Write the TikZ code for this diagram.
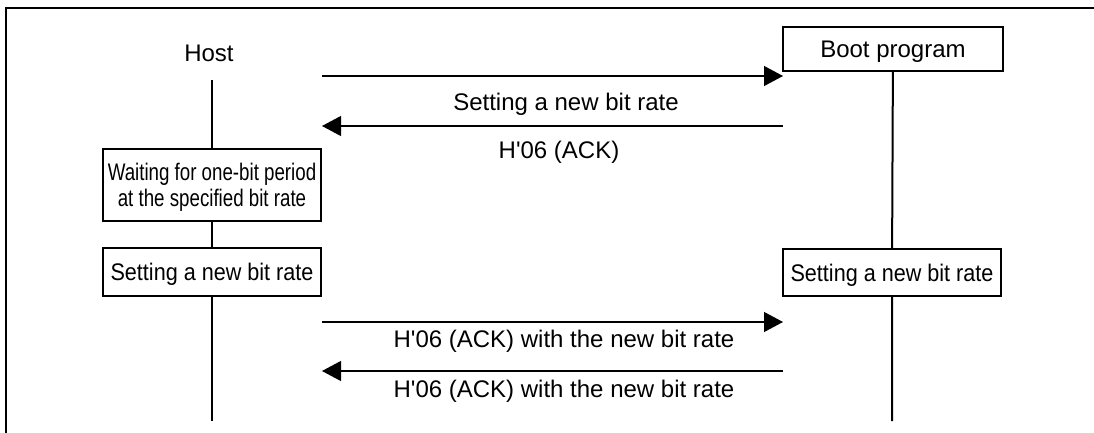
\documentclass[tikz,border=0pt]{standalone}
\usepackage{fontspec}
\setmainfont{Liberation Sans}
\newfontfamily\setfont[FakeStretch=0.9]{Liberation Sans}
\newfontfamily\waitfont[FakeStretch=0.78]{Liberation Sans}
\usetikzlibrary{arrows.meta,positioning}

\begin{document}
\begin{tikzpicture}[x=0.5pt,y=-0.5pt,
every node/.style={font=\fontsize{12}{13}\selectfont,inner sep=0pt},
lane/.style={line width=1pt},
box/.style={draw,line width=1pt,align=center,text depth=0pt},
msg/.style={line width=0.6pt,-{Triangle[length=9.5pt,width=10pt]}}]
\useasboundingbox (0,0) rectangle (1094,433);
\draw[line width=1.2pt] (6,433)--(6,8)--(1094,8);
\node (H) at (209,53) {Host};
\node[box,minimum width=110pt,minimum height=22pt] (B) at (893,49) {Boot program};
\node[box,minimum width=109pt,minimum height=36pt,font=\fontsize{12}{13}\waitfont] (W) at (212,185) {Waiting for one-bit period\\at the specified bit rate};
\node[box,minimum width=109pt,minimum height=24pt,font=\fontsize{12}{13}\setfont] (HS) at (212,272) {Setting a new bit rate};
\node[box,minimum width=109pt,minimum height=23.5pt,font=\fontsize{12}{13}\setfont] (BS) at (892,272.5) {Setting a new bit rate};
\coordinate (Htop) at (212,80);
\coordinate (Hend) at (212,421);
\coordinate (Bend) at (892,421);
\draw[lane] (Htop)--(W)--(HS)--(Hend);
\draw[lane] (B)--(BS)--(Bend);
\coordinate (h1) at (322,76);
\coordinate (b1) at (783,76);
\coordinate (h2) at (322,126);
\coordinate (b2) at (783,126);
\coordinate (h3) at (322,322);
\coordinate (b3) at (783,322);
\coordinate (h4) at (322,371);
\coordinate (b4) at (783,371);
\draw[msg] (h1)--(b1);
\draw[msg] (b2)--(h2);
\draw[msg] (h3)--(b3);
\draw[msg] (b4)--(h4);
\node (L1) at (566,104) {Setting a new bit rate};
\node (L2) at (559,152) {H\textquotesingle 06 (ACK)};
\node (L3) at (564,341) {H\textquotesingle 06 (ACK) with the new bit rate};
\node (L4) at (564,391) {H\textquotesingle 06 (ACK) with the new bit rate};
\end{tikzpicture}
\end{document}
